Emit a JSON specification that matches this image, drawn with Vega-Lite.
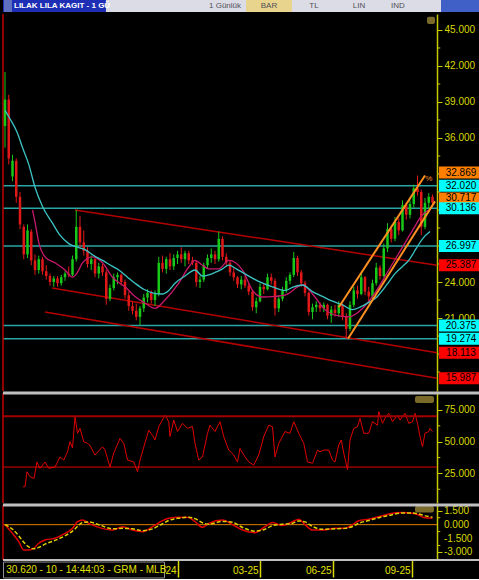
{
 "$schema": "https://vega.github.io/schema/vega-lite/v6.json",
 "background": "#000000",
 "padding": {"left": 1, "top": 0, "right": 0, "bottom": 0},
 "spacing": 2,
 "bounds": "flush",
 "config": {
  "view": {"stroke": null},
  "font": "Liberation Sans",
  "scale": {"continuousPadding": 0},
  "axis": {"grid": false, "title": null, "domainColor": "#c8c800", "domainWidth": 1.5, "tickColor": "#c8c800", "labelColor": "#d8d800", "labelFont": "Liberation Sans", "labelFontSize": 10, "labelOverlap": false}
 },
 "datasets": {
  "candles": [
   {"t":0,"o":37,"h":41.5,"l":35.2,"c":39.2},{"t":3,"o":39.2,"h":39.6,"l":33.8,"c":34.3},{"t":6,"o":32.8,"h":34.6,"l":32.4,"c":34.1},{"t":9,"o":34.1,"h":34.3,"l":30.6,"c":31.1},
   {"t":12,"o":31.1,"h":31.5,"l":28.4,"c":28.8},{"t":15,"o":28.6,"h":28.8,"l":25.9,"c":26.3},{"t":18,"o":26.3,"h":28.8,"l":26,"c":28.3},{"t":21,"o":28.2,"h":28.4,"l":25.4,"c":25.8},
   {"t":24,"o":25.8,"h":26.3,"l":24.6,"c":25},{"t":27,"o":25,"h":26.2,"l":24.7,"c":25.9},{"t":30,"o":25.9,"h":26.1,"l":24.6,"c":24.9},{"t":33,"o":24.9,"h":25.4,"l":24.2,"c":24.5},
   {"t":36,"o":24.5,"h":24.7,"l":23.7,"c":24},{"t":39,"o":24,"h":24.5,"l":23.6,"c":24.3},{"t":42,"o":24.3,"h":24.5,"l":23.6,"c":23.9},{"t":45,"o":23.9,"h":24.6,"l":23.7,"c":24.4},
   {"t":48,"o":24.4,"h":24.9,"l":24.1,"c":24.7},{"t":51,"o":24.7,"h":25.3,"l":24.4,"c":24.6},{"t":54,"o":24.6,"h":26.2,"l":24.5,"c":25.9},{"t":57,"o":25.9,"h":30,"l":25.7,"c":28.6},
   {"t":60,"o":28.6,"h":29.5,"l":26.8,"c":27.3},{"t":63,"o":27.3,"h":28.3,"l":26.2,"c":26.6},{"t":66,"o":26.6,"h":26.9,"l":25.2,"c":25.5},{"t":69,"o":25.5,"h":26.2,"l":25,"c":25.9},
   {"t":72,"o":25.9,"h":26,"l":24.4,"c":24.7},{"t":75,"o":24.7,"h":25.6,"l":24.3,"c":25.3},{"t":78,"o":25.3,"h":25.5,"l":24.5,"c":24.8},{"t":81,"o":24.8,"h":25,"l":22.1,"c":22.6},
   {"t":84,"o":22.6,"h":23.8,"l":22.4,"c":23.5},{"t":87,"o":23.5,"h":24.7,"l":23.3,"c":24.4},{"t":90,"o":24.4,"h":24.8,"l":23.8,"c":24.6},{"t":93,"o":24.6,"h":24.7,"l":23.7,"c":24},
   {"t":96,"o":24,"h":24.2,"l":22.6,"c":22.9},{"t":99,"o":22.9,"h":23.2,"l":21.6,"c":22},{"t":102,"o":22,"h":22.4,"l":21.3,"c":21.6},{"t":105,"o":21.6,"h":22.2,"l":20.8,"c":21.1},
   {"t":108,"o":21.1,"h":22,"l":20.4,"c":21.8},{"t":111,"o":21.8,"h":23,"l":21.5,"c":22.7},{"t":114,"o":22.7,"h":23.4,"l":22.3,"c":23.1},{"t":117,"o":23.1,"h":23.3,"l":22.2,"c":22.5},
   {"t":120,"o":22.5,"h":23.3,"l":22,"c":23},{"t":123,"o":23,"h":26.1,"l":22.8,"c":25.6},{"t":126,"o":25.6,"h":26.2,"l":24.8,"c":25.1},{"t":129,"o":25.1,"h":26.1,"l":24.7,"c":25.9},
   {"t":132,"o":25.9,"h":26.4,"l":25,"c":25.3},{"t":135,"o":25.3,"h":26.3,"l":25,"c":26},{"t":138,"o":26,"h":26.6,"l":25.5,"c":26.3},{"t":141,"o":26.3,"h":26.9,"l":25.6,"c":25.9},
   {"t":144,"o":25.9,"h":26.6,"l":25.3,"c":26.4},{"t":147,"o":26.4,"h":26.6,"l":25.5,"c":25.8},{"t":150,"o":25.8,"h":26.1,"l":25.4,"c":25.6},{"t":153,"o":25.6,"h":25.8,"l":23.6,"c":24},
   {"t":156,"o":24,"h":24.5,"l":23.5,"c":24.2},{"t":159,"o":24.2,"h":25.6,"l":24,"c":25.4},{"t":162,"o":25.4,"h":26.3,"l":25.1,"c":26},{"t":165,"o":26,"h":26.8,"l":25.6,"c":26.3},
   {"t":168,"o":26.3,"h":26.6,"l":25.5,"c":25.9},{"t":171,"o":25.9,"h":28.2,"l":25.7,"c":27.6},{"t":174,"o":27.6,"h":27.8,"l":25.8,"c":26.1},{"t":177,"o":26.1,"h":26.4,"l":25.3,"c":25.6},
   {"t":180,"o":25.6,"h":25.8,"l":24.5,"c":24.8},{"t":183,"o":24.8,"h":25.2,"l":24.1,"c":24.4},{"t":186,"o":24.4,"h":24.5,"l":23.5,"c":23.8},{"t":189,"o":23.8,"h":24.5,"l":23.4,"c":24.2},
   {"t":192,"o":24.2,"h":24.5,"l":23.5,"c":23.7},{"t":195,"o":23.7,"h":23.9,"l":22.9,"c":23.2},{"t":198,"o":23.2,"h":23.3,"l":21.6,"c":21.9},{"t":201,"o":21.9,"h":22.7,"l":21.4,"c":22.4},
   {"t":204,"o":22.4,"h":23.9,"l":22.3,"c":23.6},{"t":207,"o":23.6,"h":23.9,"l":23,"c":23.4},{"t":210,"o":23.4,"h":24.7,"l":23.3,"c":24.4},{"t":213,"o":24.4,"h":24.7,"l":23.8,"c":24.1},
   {"t":216,"o":24.1,"h":24.3,"l":21.2,"c":21.8},{"t":219,"o":21.8,"h":22.9,"l":21.5,"c":22.6},{"t":222,"o":22.6,"h":23.6,"l":22.4,"c":23.3},{"t":225,"o":23.3,"h":24.4,"l":23.1,"c":24.1},
   {"t":228,"o":24.1,"h":24.8,"l":23.8,"c":24.6},{"t":231,"o":24.6,"h":26.5,"l":24.4,"c":26},{"t":234,"o":26,"h":26.2,"l":24.5,"c":24.8},{"t":237,"o":24.8,"h":25,"l":23.6,"c":23.9},
   {"t":240,"o":23.9,"h":24.1,"l":22.8,"c":23.1},{"t":243,"o":23.1,"h":23.2,"l":21.2,"c":21.5},{"t":246,"o":21.5,"h":22.2,"l":20.9,"c":21.9},{"t":249,"o":21.9,"h":22.4,"l":21.5,"c":22.1},
   {"t":252,"o":22.1,"h":22.3,"l":21.5,"c":21.8},{"t":255,"o":21.8,"h":22.3,"l":21.5,"c":22.1},{"t":258,"o":22.1,"h":22.2,"l":20.9,"c":21.2},{"t":261,"o":21.2,"h":22,"l":20.6,"c":21.7},
   {"t":264,"o":21.7,"h":22.1,"l":21.1,"c":21.4},{"t":267,"o":21.4,"h":22.4,"l":21.1,"c":22.1},{"t":270,"o":22.1,"h":22.2,"l":20.8,"c":21.1},{"t":273,"o":21.1,"h":21.4,"l":19.27,"c":20.1},
   {"t":276,"o":20.1,"h":22.4,"l":19.9,"c":22.1},{"t":279,"o":22.1,"h":23.6,"l":21.9,"c":23.3},{"t":282,"o":23.3,"h":23.7,"l":22.6,"c":23},{"t":285,"o":23,"h":24.7,"l":22.9,"c":24.4},
   {"t":288,"o":24.4,"h":24.5,"l":22.9,"c":23.2},{"t":291,"o":23.2,"h":23.6,"l":22.3,"c":22.8},{"t":294,"o":22.8,"h":24.2,"l":22.6,"c":23.9},{"t":297,"o":23.9,"h":25.6,"l":23.7,"c":25.2},
   {"t":300,"o":25.2,"h":25.4,"l":24.2,"c":24.5},{"t":303,"o":24.5,"h":27.2,"l":24.4,"c":26.8},{"t":306,"o":26.8,"h":28.9,"l":26.5,"c":28.4},{"t":309,"o":28.4,"h":28.7,"l":27.3,"c":27.6},
   {"t":312,"o":27.6,"h":29.4,"l":27.4,"c":29},{"t":315,"o":29,"h":29.3,"l":27.9,"c":28.3},{"t":318,"o":28.3,"h":30.8,"l":28.2,"c":30.4},{"t":321,"o":30.4,"h":30.6,"l":29.2,"c":29.6},
   {"t":324,"o":29.6,"h":30.8,"l":29.3,"c":30.5},{"t":327,"o":30.5,"h":32.1,"l":30.2,"c":31.8},{"t":330,"o":31.8,"h":32.87,"l":31.2,"c":31.5},{"t":333,"o":31.5,"h":31.7,"l":27.9,"c":28.6},
   {"t":336,"o":28.6,"h":31,"l":28.4,"c":30.6},{"t":339,"o":30.6,"h":31.4,"l":30.1,"c":31.1},{"t":342,"o":31.1,"h":31.3,"l":30.3,"c":30.62}
  ],
  "ma1": [
   {"t":22,"v":30.0},{"t":24,"v":29.0},{"t":27,"v":27.3},{"t":32,"v":26.1},{"t":40,"v":25.6},{"t":48,"v":25.0},{"t":54,"v":24.4},{"t":58,"v":24.8},{"t":62,"v":25.6},{"t":70,"v":26.1},
   {"t":78,"v":25.6},{"t":86,"v":24.4},{"t":96,"v":23.6},{"t":104,"v":22.8},{"t":112,"v":22.25},{"t":120,"v":21.8},{"t":128,"v":22.5},{"t":139,"v":23.9},{"t":147,"v":25.25},{"t":152,"v":25.8},
   {"t":158,"v":25.4},{"t":163,"v":25.1},{"t":171,"v":25.1},{"t":179,"v":25.8},{"t":190,"v":25.0},{"t":198,"v":23.3},{"t":206,"v":22.75},{"t":216,"v":22.8},{"t":224,"v":22.9},{"t":238,"v":23.75},
   {"t":246,"v":23.0},{"t":256,"v":21.7},{"t":264,"v":21.25},{"t":275,"v":21.1},{"t":286,"v":21.8},{"t":296,"v":23.1},{"t":307,"v":25.0},{"t":318,"v":26.9},{"t":326,"v":28.3},{"t":334,"v":29.6},{"t":339,"v":30.0}
  ],
  "ma2": [
   {"t":0,"v":38.3},{"t":4,"v":37.6},{"t":10,"v":36.4},{"t":14,"v":35.2},{"t":19,"v":33.8},{"t":24,"v":31.9},{"t":30,"v":30.3},{"t":38,"v":28.9},{"t":44,"v":27.9},{"t":51,"v":27.2},
   {"t":58,"v":26.9},{"t":64,"v":26.7},{"t":71,"v":26.2},{"t":78,"v":25.8},{"t":86,"v":25.3},{"t":91,"v":25.0},{"t":98,"v":24.4},{"t":104,"v":23.9},{"t":111,"v":23.4},{"t":118,"v":23.1},
   {"t":126,"v":23.0},{"t":131,"v":23.3},{"t":136,"v":23.9},{"t":144,"v":24.5},{"t":152,"v":25.0},{"t":158,"v":24.5},{"t":163,"v":24.6},{"t":168,"v":24.8},{"t":174,"v":25.1},{"t":179,"v":25.4},
   {"t":185,"v":25.1},{"t":190,"v":24.8},{"t":202,"v":24.1},{"t":214,"v":23.6},{"t":224,"v":23.3},{"t":231,"v":23.6},{"t":238,"v":23.75},{"t":246,"v":23.2},{"t":254,"v":22.8},{"t":262,"v":22.4},
   {"t":270,"v":22.1},{"t":278,"v":21.7},{"t":284,"v":21.9},{"t":291,"v":22.3},{"t":298,"v":22.8},{"t":302,"v":23.3},{"t":307,"v":24.0},{"t":312,"v":24.7},{"t":318,"v":25.3},{"t":323,"v":25.8},
   {"t":329,"v":26.8},{"t":334,"v":27.6},{"t":340,"v":28.2}
  ],
  "levels": [{"p":32.02},{"p":30.136},{"p":26.997},{"p":20.375},{"p":19.274}],
  "trends": [
   {"k":"red","t1":56,"p1":30.0,"t2":345.6,"p2":25.39},
   {"k":"red","t1":37.6,"p1":23.5,"t2":345.6,"p2":18.11},
   {"k":"red","t1":32,"p1":21.5,"t2":345.6,"p2":15.99},
   {"k":"orange","t1":267,"p1":21.9,"t2":336,"p2":32.87},
   {"k":"orange","t1":274.4,"p1":19.27,"t2":344,"p2":30.72}
  ],
  "tags": [
   {"p":32.869,"label":"32.869","k":"o"},{"p":30.717,"label":"30.717","k":"o"},
   {"p":32.02,"label":"32.020","k":"c"},{"p":30.136,"label":"30.136","k":"c"},{"p":26.997,"label":"26.997","k":"c"},{"p":20.375,"label":"20.375","k":"c"},{"p":19.274,"label":"19.274","k":"c"},
   {"p":25.387,"label":"25.387","k":"r"},{"p":18.113,"label":"18.113","k":"r"},{"p":15.987,"label":"15.987","k":"r"}
  ],
  "minorP": [{"v":16.5},{"v":18},{"v":19.5},{"v":22.5},{"v":25.5},{"v":27},{"v":28.5},{"v":30},{"v":31.5},{"v":33},{"v":34.5},{"v":37.5},{"v":40.5},{"v":43.5}],
  "minorR": [{"v":12.5},{"v":37.5},{"v":62.5}],
  "minorM": [{"v":-3.75},{"v":-2.25},{"v":-0.75},{"v":0.75}],
  "macdLabels": [{"v":1.5,"label":"1.500"},{"v":0,"label":"0.000"},{"v":-1.5,"label":"-1.500"},{"v":-3,"label":"-3.000"}],
  "rsi": [
   {"t":14.4,"v":14.5},{"t":16,"v":14.5},{"t":17.6,"v":26.3},{"t":20,"v":22.4},{"t":23.2,"v":21},{"t":25.6,"v":34},{"t":27,"v":31},{"t":28,"v":29},{"t":32,"v":34},{"t":35,"v":29},
   {"t":40,"v":30},{"t":44,"v":38},{"t":47,"v":35.5},{"t":50,"v":42},{"t":52,"v":50},{"t":54,"v":45},{"t":56,"v":70},{"t":58,"v":56.6},{"t":60,"v":60.5},{"t":63,"v":50},
   {"t":66,"v":48.7},{"t":68,"v":47},{"t":72,"v":39.5},{"t":78,"v":46},{"t":80,"v":43.4},{"t":84,"v":30},{"t":87,"v":41},{"t":92,"v":52.6},{"t":95,"v":48.7},{"t":98,"v":35.5},
   {"t":103,"v":34},{"t":106,"v":26.3},{"t":108,"v":35.5},{"t":115,"v":59.2},{"t":118,"v":55},{"t":120,"v":51.3},{"t":123,"v":61.8},{"t":128,"v":71},{"t":131,"v":65.8},{"t":132,"v":54},
   {"t":135,"v":67},{"t":138,"v":58},{"t":142,"v":64.5},{"t":146,"v":60.5},{"t":150,"v":62},{"t":152,"v":48.7},{"t":155,"v":35.5},{"t":158,"v":38},{"t":162,"v":56.6},{"t":164,"v":63},
   {"t":168,"v":58},{"t":172,"v":65.8},{"t":175,"v":54},{"t":179,"v":43.4},{"t":183,"v":39.5},{"t":186,"v":34},{"t":188,"v":44.7},{"t":191,"v":39.5},{"t":195,"v":34},{"t":199,"v":31.6},
   {"t":203,"v":39.5},{"t":207,"v":54},{"t":211,"v":63},{"t":214,"v":61.8},{"t":216,"v":38},{"t":219,"v":48.7},{"t":224,"v":58},{"t":228,"v":56.6},{"t":231,"v":65.8},{"t":235,"v":56.6},
   {"t":239,"v":48.7},{"t":242,"v":34},{"t":246,"v":33},{"t":250,"v":43.4},{"t":252,"v":42},{"t":255,"v":43.4},{"t":259,"v":43.4},{"t":262,"v":35.5},{"t":264,"v":34},{"t":267,"v":47.4},
   {"t":269,"v":51.3},{"t":271,"v":41},{"t":274,"v":28},{"t":276,"v":51.3},{"t":279,"v":60.5},{"t":282,"v":61.8},{"t":284,"v":68.4},{"t":287,"v":56.6},{"t":291,"v":56.6},{"t":294,"v":65.8},
   {"t":298,"v":63},{"t":299,"v":73.7},{"t":302,"v":64.5},{"t":304,"v":68.4},{"t":307,"v":72.4},{"t":310,"v":65.8},{"t":314,"v":71},{"t":316,"v":67},{"t":320,"v":72.4},{"t":323,"v":64.5},
   {"t":326,"v":65.8},{"t":328,"v":72.4},{"t":330,"v":64.5},{"t":332,"v":54},{"t":334,"v":46},{"t":336,"v":56.6},{"t":339,"v":58},{"t":340,"v":60.5},{"t":342,"v":58}
  ],
  "macd": [
   {"t":0,"m":0,"s":0},{"t":6,"m":-0.94,"s":-0.5},{"t":11,"m":-1.83,"s":-1.2},{"t":15,"m":-2.73,"s":-1.9},{"t":19,"m":-2.73,"s":-2.4},{"t":23,"m":-2.55,"s":-2.6},{"t":27,"m":-2.0,"s":-2.45},
   {"t":32,"m":-1.65,"s":-2.1},{"t":40,"m":-1.47,"s":-1.7},{"t":48,"m":-0.94,"s":-1.2},{"t":54,"m":-0.4,"s":-0.7},{"t":58,"m":0.32,"s":-0.2},{"t":62,"m":0.5,"s":0.25},{"t":67,"m":0.14,"s":0.3},
   {"t":75,"m":-0.29,"s":0},{"t":86,"m":-0.58,"s":-0.45},{"t":94,"m":-0.22,"s":-0.4},{"t":102,"m":-0.58,"s":-0.45},{"t":110,"m":-0.76,"s":-0.65},{"t":118,"m":-0.22,"s":-0.45},{"t":126,"m":0.43,"s":0.1},
   {"t":131,"m":0.68,"s":0.45},{"t":139,"m":0.79,"s":0.7},{"t":147,"m":0.76,"s":0.8},{"t":152,"m":0.32,"s":0.65},{"t":158,"m":-0.29,"s":0.2},{"t":163,"m":0.14,"s":0.05},{"t":174,"m":0.5,"s":0.35},
   {"t":182,"m":0,"s":0.25},{"t":190,"m":-0.58,"s":-0.3},{"t":200,"m":-0.86,"s":-0.7},{"t":208,"m":-0.22,"s":-0.5},{"t":214,"m":0.22,"s":-0.1},{"t":222,"m":-0.1,"s":0.05},{"t":230,"m":0.32,"s":0.15},
   {"t":235,"m":0.58,"s":0.4},{"t":240,"m":0,"s":0.3},{"t":246,"m":-0.58,"s":-0.2},{"t":254,"m":-0.58,"s":-0.5},{"t":264,"m":-0.4,"s":-0.45},{"t":272,"m":-0.4,"s":-0.4},{"t":278,"m":0,"s":-0.2},
   {"t":283,"m":0.43,"s":0.15},{"t":291,"m":0.58,"s":0.45},{"t":299,"m":0.86,"s":0.75},{"t":307,"m":1.15,"s":1.0},{"t":318,"m":1.3,"s":1.25},{"t":326,"m":1.22,"s":1.25},{"t":331,"m":1.04,"s":1.15},
   {"t":335,"m":0.76,"s":1.0},{"t":342,"m":0.68,"s":0.8}
  ],
  "hbars": [{"a":0,"b":103,"k":"title"},{"a":103,"b":438,"k":"tool"},{"a":243,"b":289,"k":"bar"},{"a":438,"b":478,"k":"win"},{"a":1,"b":9,"k":"x"}],
  "htext": [{"pos":222,"label":"1 Günlük"},{"pos":266,"label":"BAR"},{"pos":311,"label":"TL"},{"pos":356,"label":"LIN"},{"pos":395,"label":"IND"}],
  "one": [{}]
 },
 "vconcat": [
  {
   "width": 478, "height": 12,
   "layer": [
    {"data": {"name": "hbars"}, "mark": {"type": "rect"},
     "encoding": {"x": {"field": "a", "type": "quantitative", "scale": {"domain": [0, 478], "nice": false}, "axis": null}, "x2": {"field": "b"},
      "color": {"field": "k", "type": "nominal", "scale": {"domain": ["title", "tool", "bar", "win", "x"], "range": ["#1f2fb5", "#dcdce6", "#e8d48c", "#4060c8", "#6070c0"]}, "legend": null}}},
    {"data": {"name": "one"}, "mark": {"type": "text", "align": "left", "baseline": "middle", "fontSize": 8, "fontWeight": "bold", "color": "#ffffff", "font": "Liberation Sans"},
     "encoding": {"x": {"datum": 11, "type": "quantitative", "scale": {"domain": [0, 478], "nice": false}, "axis": null}, "text": {"value": "LILAK LILA KAGIT - 1 GÜ"}}},
    {"data": {"name": "htext"}, "mark": {"type": "text", "align": "center", "baseline": "middle", "fontSize": 8, "color": "#505058", "font": "Liberation Sans"},
     "encoding": {"x": {"field": "pos", "type": "quantitative", "scale": {"domain": [0, 478], "nice": false}, "axis": null}, "text": {"field": "label"}}}
   ]
  },
  {
   "width": 434, "height": 377,
   "layer": [
    {"data": {"name": "levels"}, "mark": {"type": "rule", "color": "#2aa6a6", "strokeWidth": 1.5},
     "encoding": {"y": {"field": "p", "type": "quantitative", "scale": {"domain": [14.92, 46.33], "nice": false, "zero": false},
       "axis": {"orient": "right", "values": [21, 24, 36, 39, 42, 45], "format": ".3f", "labelOverlap": false, "tickSize": 5, "labelPadding": 2}}}},
    {"data": {"name": "one"}, "mark": {"type": "rule", "color": "#c00000", "strokeWidth": 1.5},
     "encoding": {"x": {"datum": -1.6, "type": "quantitative", "scale": {"domain": [-1.6, 345.6], "nice": false, "zero": false, "padding": 0}, "axis": null}}},
    {"data": {"name": "minorP"}, "mark": {"type": "rule", "color": "#c8c800", "strokeWidth": 1, "clip": false},
     "encoding": {"x": {"datum": 345.6, "type": "quantitative"}, "x2": {"datum": 348.2}, "y": {"field": "v", "type": "quantitative"}}},
    {"data": {"name": "trends"}, "transform": [{"filter": "datum.k === 'red'"}], "mark": {"type": "rule", "color": "#b40000", "strokeWidth": 1.5},
     "encoding": {"x": {"field": "t1", "type": "quantitative", "scale": {"domain": [-1.6, 345.6], "nice": false, "zero": false, "padding": 0}, "axis": null},
      "y": {"field": "p1", "type": "quantitative"}, "x2": {"field": "t2"}, "y2": {"field": "p2"}}},
    {"data": {"name": "candles"}, "mark": {"type": "rule", "strokeWidth": 1},
     "encoding": {"x": {"field": "t", "type": "quantitative", "scale": {"domain": [-1.6, 345.6], "nice": false, "zero": false, "padding": 0}, "axis": null},
      "y": {"field": "l", "type": "quantitative"}, "y2": {"field": "h"},
      "color": {"condition": {"test": "datum.c >= datum.o", "value": "#18c818"}, "value": "#e01818"}}},
    {"data": {"name": "candles"}, "mark": {"type": "bar", "size": 2.5},
     "encoding": {"x": {"field": "t", "type": "quantitative", "scale": {"domain": [-1.6, 345.6], "nice": false, "zero": false, "padding": 0}, "axis": null},
      "y": {"field": "o", "type": "quantitative"}, "y2": {"field": "c"},
      "color": {"condition": {"test": "datum.c >= datum.o", "value": "#18c818"}, "value": "#e01818"}}},
    {"data": {"name": "ma1"}, "mark": {"type": "line", "color": "#c8186e", "strokeWidth": 1.3, "interpolate": "monotone"},
     "encoding": {"x": {"field": "t", "type": "quantitative", "scale": {"domain": [-1.6, 345.6], "nice": false, "zero": false, "padding": 0}, "axis": null},
      "y": {"field": "v", "type": "quantitative"}}},
    {"data": {"name": "ma2"}, "mark": {"type": "line", "color": "#3cc4c4", "strokeWidth": 1.3, "interpolate": "monotone"},
     "encoding": {"x": {"field": "t", "type": "quantitative", "scale": {"domain": [-1.6, 345.6], "nice": false, "zero": false, "padding": 0}, "axis": null},
      "y": {"field": "v", "type": "quantitative"}}},
    {"data": {"name": "trends"}, "transform": [{"filter": "datum.k === 'orange'"}], "mark": {"type": "rule", "color": "#ff9020", "strokeWidth": 2},
     "encoding": {"x": {"field": "t1", "type": "quantitative", "scale": {"domain": [-1.6, 345.6], "nice": false, "zero": false, "padding": 0}, "axis": null},
      "y": {"field": "p1", "type": "quantitative"}, "x2": {"field": "t2"}, "y2": {"field": "p2"}}},
    {"data": {"name": "one"}, "mark": {"type": "text", "align": "center", "baseline": "middle", "fontSize": 8, "color": "#ff9020", "font": "Liberation Sans"},
     "encoding": {"x": {"datum": 339, "type": "quantitative"}, "y": {"datum": 32.6, "type": "quantitative"}, "text": {"value": "%"}}},
    {"data": {"name": "one"}, "mark": {"type": "rect", "fill": "#7a6a2a", "cornerRadius": 2},
     "encoding": {"x": {"datum": 337.6, "type": "quantitative"}, "x2": {"datum": 344}, "y": {"datum": 46.1, "type": "quantitative"}, "y2": {"datum": 45.5}}},
    {"data": {"name": "tags"}, "transform": [{"filter": "datum.k === 'o'"}], "mark": {"type": "rule", "strokeWidth": 12, "strokeCap": "butt", "clip": false, "color": "#ff8000", "yOffset": -3},
     "encoding": {"x": {"datum": 347.2, "type": "quantitative"}, "x2": {"datum": 380.8}, "y": {"field": "p", "type": "quantitative"}}},
    {"data": {"name": "tags"}, "transform": [{"filter": "datum.k === 'o'"}], "mark": {"type": "text", "align": "center", "baseline": "middle", "fontSize": 10, "color": "#000000", "clip": false, "font": "Liberation Sans", "yOffset": -3},
     "encoding": {"x": {"datum": 364.8, "type": "quantitative"}, "y": {"field": "p", "type": "quantitative"}, "text": {"field": "label"}}},
    {"data": {"name": "tags"}, "transform": [{"filter": "datum.k !== 'o'"}], "mark": {"type": "rule", "strokeWidth": 12, "strokeCap": "butt", "clip": false},
     "encoding": {"x": {"datum": 347.2, "type": "quantitative"}, "x2": {"datum": 380.8}, "y": {"field": "p", "type": "quantitative"},
      "color": {"condition": {"test": "datum.k === 'c'", "value": "#00ffff"}, "value": "#ff0000"}}},
    {"data": {"name": "tags"}, "transform": [{"filter": "datum.k !== 'o'"}], "mark": {"type": "text", "align": "center", "baseline": "middle", "fontSize": 10, "color": "#000000", "clip": false, "font": "Liberation Sans"},
     "encoding": {"x": {"datum": 364.8, "type": "quantitative"}, "y": {"field": "p", "type": "quantitative"}, "text": {"field": "label"}}}
   ]
  },
  {
   "width": 434, "height": 110,
   "layer": [
    {"data": {"name": "rsi"}, "mark": {"type": "line", "color": "#e00000", "strokeWidth": 1},
     "encoding": {"x": {"field": "t", "type": "quantitative", "scale": {"domain": [-1.6, 345.6], "nice": false, "zero": false, "padding": 0}, "axis": null},
      "y": {"field": "v", "type": "quantitative", "scale": {"domain": [1.66, 88.4], "nice": false, "zero": false},
       "axis": {"orient": "right", "values": [25, 50, 75], "format": ".3f", "labelOverlap": false, "tickSize": 5, "labelPadding": 2}}}},
    {"data": {"name": "minorR"}, "mark": {"type": "rule", "color": "#c8c800", "strokeWidth": 1, "clip": false},
     "encoding": {"x": {"datum": 345.6, "type": "quantitative"}, "x2": {"datum": 348.2}, "y": {"field": "v", "type": "quantitative"}}},
    {"data": {"name": "one"}, "mark": {"type": "rule", "color": "#a00000", "strokeWidth": 2},
     "encoding": {"y": {"datum": 70, "type": "quantitative"}}},
    {"data": {"name": "one"}, "mark": {"type": "rule", "color": "#e00000", "strokeWidth": 1},
     "encoding": {"y": {"datum": 30, "type": "quantitative"}}},
    {"data": {"name": "one"}, "mark": {"type": "rule", "color": "#c00000", "strokeWidth": 1.5},
     "encoding": {"x": {"datum": -1.6, "type": "quantitative"}}},
    {"data": {"name": "one"}, "mark": {"type": "rect", "fill": "#7a6a2a", "cornerRadius": 2},
     "encoding": {"x": {"datum": 328, "type": "quantitative"}, "x2": {"datum": 343.2}, "y": {"datum": 86, "type": "quantitative"}, "y2": {"datum": 80.5}}},
    {"data": {"name": "one"}, "mark": {"type": "rule", "color": "#c0c0c0", "strokeWidth": 3, "clip": false},
     "encoding": {"x": {"datum": -1.6, "type": "quantitative"}, "x2": {"datum": 380.8}, "y": {"datum": 88.4, "type": "quantitative"}}}
   ]
  },
  {
   "width": 434, "height": 55,
   "layer": [
    {"data": {"name": "one"}, "mark": {"type": "rule", "color": "#e08000", "strokeWidth": 1},
     "encoding": {"y": {"datum": 0, "type": "quantitative", "scale": {"domain": [-3.81, 2.12], "nice": false, "zero": false},
       "axis": {"orient": "right", "values": [-3, -1.5, 0, 1.5], "labels": false, "tickSize": 5}}}},
    {"data": {"name": "minorM"}, "mark": {"type": "rule", "color": "#c8c800", "strokeWidth": 1, "clip": false},
     "encoding": {"x": {"datum": 345.6, "type": "quantitative", "scale": {"domain": [-1.6, 345.6], "nice": false, "zero": false, "padding": 0}}, "x2": {"datum": 348.2}, "y": {"field": "v", "type": "quantitative"}}},
    {"data": {"name": "macdLabels"}, "mark": {"type": "text", "align": "left", "baseline": "middle", "fontSize": 10, "color": "#d8d800", "clip": false, "font": "Liberation Sans"},
     "encoding": {"x": {"datum": 351.2, "type": "quantitative"}, "y": {"field": "v", "type": "quantitative"}, "text": {"field": "label"}}},
    {"data": {"name": "macd"}, "mark": {"type": "line", "color": "#e00000", "strokeWidth": 1.5, "interpolate": "monotone"},
     "encoding": {"x": {"field": "t", "type": "quantitative", "scale": {"domain": [-1.6, 345.6], "nice": false, "zero": false, "padding": 0},
       "axis": {"orient": "bottom", "values": [138.4, 204, 262.4, 325.6],
        "labelExpr": "datum.value < 150 ? '24' : datum.value < 230 ? '03-25' : datum.value < 300 ? '06-25' : '09-25'",
        "domain": false, "tickSize": 17, "tickWidth": 1.5, "tickColor": "#d8d800", "labelAlign": "right", "labelBaseline": "middle", "labelOffset": -2, "labelPadding": -7, "labelFontSize": 10, "labelColor": "#e0e000", "labelFlush": false}},
      "y": {"field": "m", "type": "quantitative"}}},
    {"data": {"name": "macd"}, "mark": {"type": "line", "color": "#e0d000", "strokeWidth": 1.5, "strokeDash": [4, 2], "interpolate": "monotone"},
     "encoding": {"x": {"field": "t", "type": "quantitative"}, "y": {"field": "s", "type": "quantitative"}}},
    {"data": {"name": "one"}, "mark": {"type": "rule", "color": "#c00000", "strokeWidth": 1.5},
     "encoding": {"x": {"datum": -1.6, "type": "quantitative"}}},
    {"data": {"name": "one"}, "mark": {"type": "rect", "fill": "#7a6a2a", "cornerRadius": 2},
     "encoding": {"x": {"datum": 328, "type": "quantitative"}, "x2": {"datum": 343.2}, "y": {"datum": 2.0, "type": "quantitative"}, "y2": {"datum": 1.3}}},
    {"data": {"name": "one"}, "mark": {"type": "rule", "color": "#c0c0c0", "strokeWidth": 3, "clip": false},
     "encoding": {"x": {"datum": -1.6, "type": "quantitative"}, "x2": {"datum": 380.8}, "y": {"datum": 2.12, "type": "quantitative"}}},
    {"data": {"name": "one"}, "mark": {"type": "rule", "color": "#c0c0c0", "strokeWidth": 2, "clip": false},
     "encoding": {"x": {"datum": -1.6, "type": "quantitative"}, "x2": {"datum": 380.8}, "y": {"datum": -3.81, "type": "quantitative"}}},
    {"data": {"name": "one"}, "mark": {"type": "rect", "fill": "#000000", "stroke": "#909090", "strokeWidth": 1, "clip": false},
     "encoding": {"x": {"datum": -1.2, "type": "quantitative"}, "x2": {"datum": 127.6}, "y": {"datum": -4.03, "type": "quantitative"}, "y2": {"datum": -5.75}}},
    {"data": {"name": "one"}, "mark": {"type": "text", "align": "left", "baseline": "middle", "fontSize": 10, "color": "#e0e000", "clip": false, "font": "Liberation Sans"},
     "encoding": {"x": {"datum": 1, "type": "quantitative"}, "y": {"datum": -4.9, "type": "quantitative"}, "text": {"value": "30.620 - 10 - 14:44:03 - GRM - MLB"}}}
   ]
  }
 ]
}
